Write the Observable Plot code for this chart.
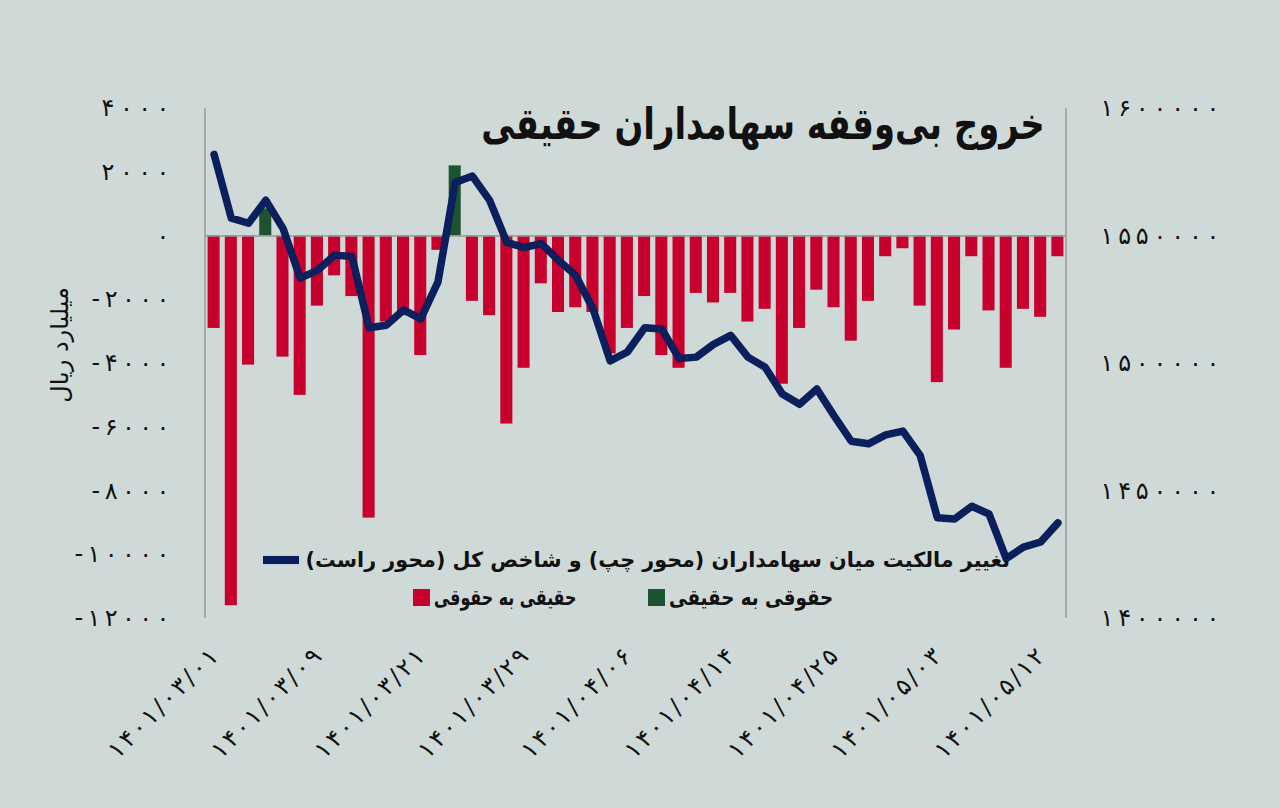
<!DOCTYPE html>
<html><head><meta charset="utf-8">
<script src="https://cdn.jsdelivr.net/npm/d3@7"></script>
<script src="https://cdn.jsdelivr.net/npm/@observablehq/plot@0.6"></script>
<style>
html,body{margin:0;padding:0;background:#cfd9d7;}
#wrap{position:relative;width:1280px;height:808px;font-family:"DejaVu Sans",sans-serif;color:#111;}
#wrap svg{position:absolute;left:0;top:0;}
.title{position:absolute;right:235px;top:98px;font-weight:bold;font-size:44px;direction:rtl;white-space:nowrap;transform:scaleX(0.77);transform-origin:right center;}
.ylab{position:absolute;left:60px;top:345px;font-size:24px;direction:rtl;white-space:nowrap;transform:translate(-50%,-50%) rotate(-90deg);}
.leg{position:absolute;display:flex;align-items:center;direction:ltr;font-weight:bold;font-size:21px;white-space:nowrap;}
.leg span.t{direction:rtl;display:inline-block;}
.sw{display:inline-block;margin-right:4px;}
</style>
</head><body>
<div id="wrap">
  <div class="title">خروج بی‌وقفه سهامداران حقیقی</div>
  <div class="ylab">میلیارد ریال</div>
  <div class="leg" style="right:270px;top:548px;font-size:20.7px;"><span class="sw" style="width:36px;height:8px;background:#0b1f5c;box-shadow:0 0 2px #9fb3e8;margin-right:6px;"></span><span class="t">تغییر مالکیت میان سهامداران (محور چپ) و شاخص کل (محور راست)</span></div>
  <div class="leg" style="left:648px;top:585px;font-size:22px;"><span class="sw" style="width:17px;height:17px;background:#1d5330;"></span><span class="t" style="transform:scaleX(0.83);transform-origin:left center;">حقوقی به حقیقی</span></div>
  <div class="leg" style="left:413px;top:585px;font-size:22px;"><span class="sw" style="width:17px;height:17px;background:#c8002e;"></span><span class="t" style="transform:scaleX(0.72);transform-origin:left center;">حقیقی به حقوقی</span></div>
</div>
<script>
// Net ownership change between real and legal shareholders (billion rials), 50 trading days
const netFlow = [
  -2900, -11600, -4050, 850, -3800, -5000, -2200, -1250, -1900, -8850,
  -2700, -2500, -3750, -450, 2200, -2050, -2500, -5900, -4150, -1500,
  -2400, -2250, -2400, -3700, -2900, -1900, -3750, -4150, -1800, -2100,
  -1800, -2700, -2300, -4650, -2900, -1700, -2250, -3300, -2050, -650,
  -400, -2200, -4600, -2950, -650, -2350, -4150, -2300, -2550, -650
];
// TEDPIX (total index), right axis
const indexValues = [
  1582000, 1557000, 1555000, 1564000, 1553000, 1533500, 1536500, 1542500, 1542000, 1514000,
  1515000, 1521000, 1517500, 1532000, 1571000, 1573500, 1564000, 1547500, 1545500, 1547000,
  1540500, 1534500, 1521500, 1501000, 1504500, 1514000, 1513500, 1502000, 1502500, 1507500,
  1511000, 1502500, 1498500, 1488000, 1484000, 1490000, 1479500, 1469500, 1468500, 1472000,
  1473500, 1464000, 1439500, 1439000, 1444000, 1441000, 1423500, 1428000, 1430000, 1437500
];
const tickIndex = [0, 6, 12, 18, 24, 30, 36, 42, 48];
const tickDates = ["1401/03/01","1401/03/09","1401/03/21","1401/03/29","1401/04/06","1401/04/14","1401/04/25","1401/05/03","1401/05/12"];
const leftTicks = [-12000, -10000, -8000, -6000, -4000, -2000, 0, 2000, 4000];
const rightTicks = [1400000, 1450000, 1500000, 1550000, 1600000];

const leftDomain = [-12000, 4000];
const rightDomain = [1400000, 1600000];
const k = (leftDomain[1] - leftDomain[0]) / (rightDomain[1] - rightDomain[0]);
const toLeft = v => leftDomain[0] + (v - rightDomain[0]) * k;
const fromLeft = d => Math.round(rightDomain[0] + (d - leftDomain[0]) / k);
const fa = s => String(s).replace(/\d/g, c => "۰۱۲۳۴۵۶۷۸۹"[c]);

const data = netFlow.map((v, i) => ({i, flow: v, idx: indexValues[i]}));

const plot = Plot.plot({
  width: 1280,
  height: 808,
  marginLeft: 205,
  marginRight: 214,
  marginTop: 108,
  marginBottom: 190,
  style: {background: "transparent", fontFamily: "DejaVu Sans, sans-serif", fontSize: "24px", color: "#111"},
  x: {type: "band", domain: d3.range(netFlow.length), paddingInner: 0.3, paddingOuter: 0.15, round: false},
  y: {domain: leftDomain},
  marks: [
    Plot.barY(data, {x: "i", y: "flow", fill: d => d.flow >= 0 ? "#1d5330" : "#c8002e"}),
    Plot.ruleY([0], {stroke: "#999", strokeWidth: 1.5}),
    Plot.lineY(data, {x: "i", y: d => toLeft(d.idx), stroke: "#0b1f5c", strokeWidth: 7.5, strokeLinejoin: "round", strokeLinecap: "round"}),
    Plot.axisY(leftTicks, {anchor: "left", tickSize: 0, tickPadding: 36, tickFormat: d => fa(d), label: null, fontSize: 24}),
    Plot.axisY(rightTicks.map(toLeft), {anchor: "right", tickSize: 0, tickPadding: 34, tickFormat: d => fa(fromLeft(d)), label: null, fontSize: 24}),
    Plot.axisX(tickIndex, {tickSize: 0, tickPadding: 34, tickRotate: -45, tickFormat: i => fa(tickDates[tickIndex.indexOf(i)]), label: null, fontSize: 24})
  ]
});

// vertical axis lines at the edges of the scales' ranges
const xs = plot.scale("x"), ys = plot.scale("y");
const svg = d3.select(plot);
const [x0, x1] = [xs.range[0], xs.range[1]];
const [yb, yt] = ys.range;
[x0, x1].forEach(x => svg.append("line").attr("x1", x).attr("x2", x).attr("y1", yt).attr("y2", yb).attr("stroke", "#999").attr("stroke-width", 1.5));
// spread digits like the original (letter-spacing is ignored for Arabic-script digits)
svg.selectAll("text").each(function() {
  const t = this.textContent;
  if (!/^[-۰-۹\/]+$/.test(t) || t.length < 2) return;
  const digits = t.replace(/[^۰-۹]/g, "").length;
  const minus = t.startsWith("-") ? 10 : 0;
  const slashes = (t.match(/\//g) || []).length;
  const len = slashes ? digits * 15 + slashes * 12 : digits * 17 + minus;
  d3.select(this).attr("textLength", len).attr("lengthAdjust", "spacing");
});
document.getElementById("wrap").prepend(plot);
</script>
</body></html>
